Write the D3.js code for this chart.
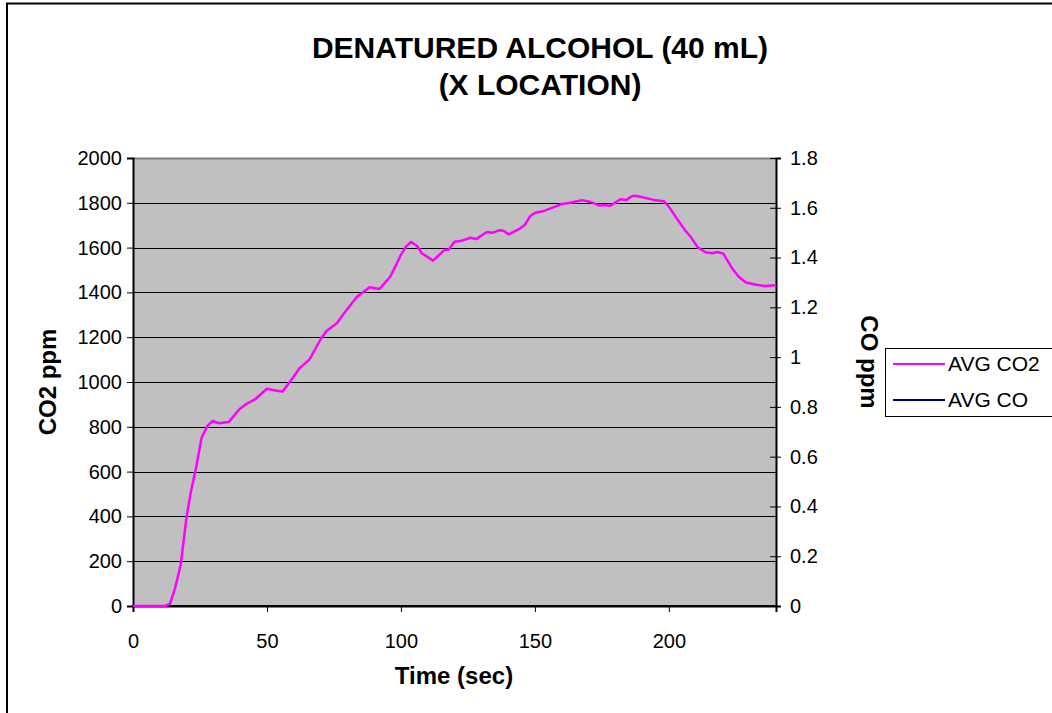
<!DOCTYPE html>
<html>
<head>
<meta charset="utf-8">
<script src="https://cdn.jsdelivr.net/npm/d3@7"></script>
<style>
  body { margin: 0; background: #fff; }
  svg { font-family: Arial, "Liberation Sans", sans-serif; }
</style>
</head>
<body>
<div id="chart"></div>
<script>
// data
var timeSec = [0, 12, 13.8, 15.7, 17.8, 20, 21.5, 23.5, 25.6, 27.8, 29.8, 32, 35.7, 39.7, 42, 45.6,
  50, 53.7, 55.8, 59.3, 62.1, 65.9, 70.1, 72.3, 76.1, 78.3, 83.6, 88.3, 92, 96, 97.9, 100.1,
  101.9, 103.8, 106, 107.8, 112, 116.2, 117.9, 120, 122.2, 125.9, 128.1, 132.1, 134.2, 136.5,
  138.3, 140.2, 144.6, 146.2, 148.3, 150.2, 153.3, 155.8, 157.6, 160.1, 163.2, 167.6, 170.7,
  174.2, 175.7, 178.2, 181.9, 184.2, 186.3, 188.1, 194.4, 198.1, 200, 203.1, 206.2, 208.1,
  210.8, 213.7, 216.2, 218.1, 220.3, 223.6, 226.1, 228.6, 231.7, 235.5, 240];
var avgCO2 = [0, 0, 10, 79, 183, 399, 503, 615, 751, 804, 826, 816, 821, 878, 900, 923,
  970, 961, 957, 1012, 1061, 1101, 1192, 1229, 1262, 1299, 1381, 1423, 1415, 1470, 1515, 1570,
  1604, 1625, 1607, 1575, 1542, 1589, 1592, 1626, 1629, 1644, 1638, 1670, 1666, 1677,
  1675, 1659, 1686, 1701, 1741, 1756, 1763, 1775, 1783, 1795, 1800, 1812, 1804,
  1787, 1790, 1787, 1816, 1813, 1830, 1830, 1813, 1807, 1783, 1728, 1675, 1649,
  1601, 1579, 1575, 1580, 1573, 1508, 1470, 1445, 1436, 1429, 1432];
var avgCO = timeSec.map(function() { return 0; }); // CO reads 0 throughout

var xTicks = [0, 50, 100, 150, 200];
var leftTicks = [0, 200, 400, 600, 800, 1000, 1200, 1400, 1600, 1800, 2000];
var rightTicks = [0, 0.2, 0.4, 0.6, 0.8, 1, 1.2, 1.4, 1.6, 1.8];
var seriesNames = ["AVG CO2", "AVG CO"];
var seriesColors = ["#ff00ff", "#000080"];

var svgWidth = 1052;
var svgHeight = 713;
var margin = { top: 158, left: 133 };
var width = 643;
var height = 448;

var svg = d3.select("#chart").append("svg")
  .attr("width", svgWidth)
  .attr("height", svgHeight);

// outer chart frame (runs off the right and bottom edges)
svg.append("rect")
  .attr("x", 7).attr("y", 3.5)
  .attr("width", 1100).attr("height", 800)
  .attr("fill", "#fff")
  .attr("stroke", "#000").attr("stroke-width", 2);

var g = svg.append("g")
  .attr("transform", "translate(" + margin.left + "," + margin.top + ")");

var x = d3.scaleLinear().domain([0, 240]).range([0, width]);
var yLeft = d3.scaleLinear().domain([0, 2000]).range([height, 0]);
var yRight = d3.scaleLinear().domain([0, 1.8]).range([height, 0]);

// plot area
g.append("rect")
  .attr("width", width).attr("height", height)
  .attr("fill", "#c0c0c0");

// gridlines
g.selectAll(".grid")
  .data(leftTicks.slice(1, -1))
  .enter().append("line")
  .attr("x1", 0).attr("x2", width)
  .attr("y1", d => Math.round(yLeft(d)) + 0.5)
  .attr("y2", d => Math.round(yLeft(d)) + 0.5)
  .attr("stroke", "#000").attr("stroke-width", 1);

// top border of plot
g.append("line")
  .attr("x1", 0).attr("x2", width)
  .attr("y1", 0.5).attr("y2", 0.5)
  .attr("stroke", "#808080").attr("stroke-width", 2);

// lines
var lineCO = d3.line()
  .x((d, i) => x(timeSec[i]))
  .y(d => yRight(d));
var lineCO2 = d3.line()
  .x((d, i) => x(timeSec[i]))
  .y(d => yLeft(d));

g.append("path")
  .datum(avgCO)
  .attr("d", lineCO)
  .attr("fill", "none")
  .attr("stroke", seriesColors[1])
  .attr("stroke-width", 2);

// axes
var bottomAxis = d3.axisBottom(x).tickValues(xTicks).tickSize(6).tickPadding(22);
var leftAxis = d3.axisLeft(yLeft).tickValues(leftTicks).tickSize(6).tickPadding(5)
  .tickFormat(d3.format("d"));
var rightAxis = d3.axisRight(yRight).tickValues(rightTicks).tickSize(5).tickPadding(9)
  .tickFormat(d3.format("~g"));

var gx = g.append("g")
  .attr("transform", "translate(0," + height + ")")
  .call(bottomAxis);
var gl = g.append("g").call(leftAxis);
var gr = g.append("g")
  .attr("transform", "translate(" + width + ",0)")
  .call(rightAxis);

// right-axis ticks cross the axis line
gr.selectAll(".tick line").attr("x1", -6);

[gx, gl, gr].forEach(function(a) {
  a.select(".domain").attr("stroke", "#000").attr("stroke-width", 2);
  a.selectAll(".tick line").attr("stroke", "#000");
  a.selectAll("text")
    .attr("font-size", 20)
    .attr("fill", "#000")
    .attr("font-family", "Arial, 'Liberation Sans', sans-serif");
});

g.append("path")
  .datum(avgCO2)
  .attr("d", lineCO2)
  .attr("fill", "none")
  .attr("stroke", seriesColors[0])
  .attr("stroke-width", 2.5)
  .attr("stroke-linejoin", "round");

// titles
svg.append("text")
  .attr("x", 540).attr("y", 58)
  .attr("text-anchor", "middle")
  .attr("font-size", 30).attr("font-weight", "bold")
  .text("DENATURED ALCOHOL (40 mL)");
svg.append("text")
  .attr("x", 540).attr("y", 95)
  .attr("text-anchor", "middle")
  .attr("font-size", 30).attr("font-weight", "bold")
  .text("(X LOCATION)");

svg.append("text")
  .attr("x", 454).attr("y", 684)
  .attr("text-anchor", "middle")
  .attr("font-size", 24).attr("font-weight", "bold")
  .text("Time (sec)");

svg.append("text")
  .attr("transform", "translate(56,382) rotate(-90)")
  .attr("text-anchor", "middle")
  .attr("font-size", 24).attr("font-weight", "bold")
  .text("CO2 ppm");

svg.append("text")
  .attr("transform", "translate(861,362) rotate(90)")
  .attr("text-anchor", "middle")
  .attr("font-size", 24).attr("font-weight", "bold")
  .text("CO ppm");

// legend
var legend = svg.append("g").attr("transform", "translate(885,348)");
legend.append("rect")
  .attr("x", 0.5).attr("y", 0.5)
  .attr("width", 180).attr("height", 68)
  .attr("fill", "#fff")
  .attr("stroke", "#000").attr("stroke-width", 1);

var item = legend.selectAll(".item")
  .data(seriesNames)
  .enter().append("g")
  .attr("transform", (d, i) => "translate(0," + (16 + i * 36) + ")");
item.append("line")
  .attr("x1", 8).attr("x2", 60)
  .attr("stroke", (d, i) => seriesColors[i])
  .attr("stroke-width", 2);
item.append("text")
  .attr("x", 63).attr("dy", "0.35em")
  .attr("font-size", 21)
  .text(d => d);
</script>
</body>
</html>
